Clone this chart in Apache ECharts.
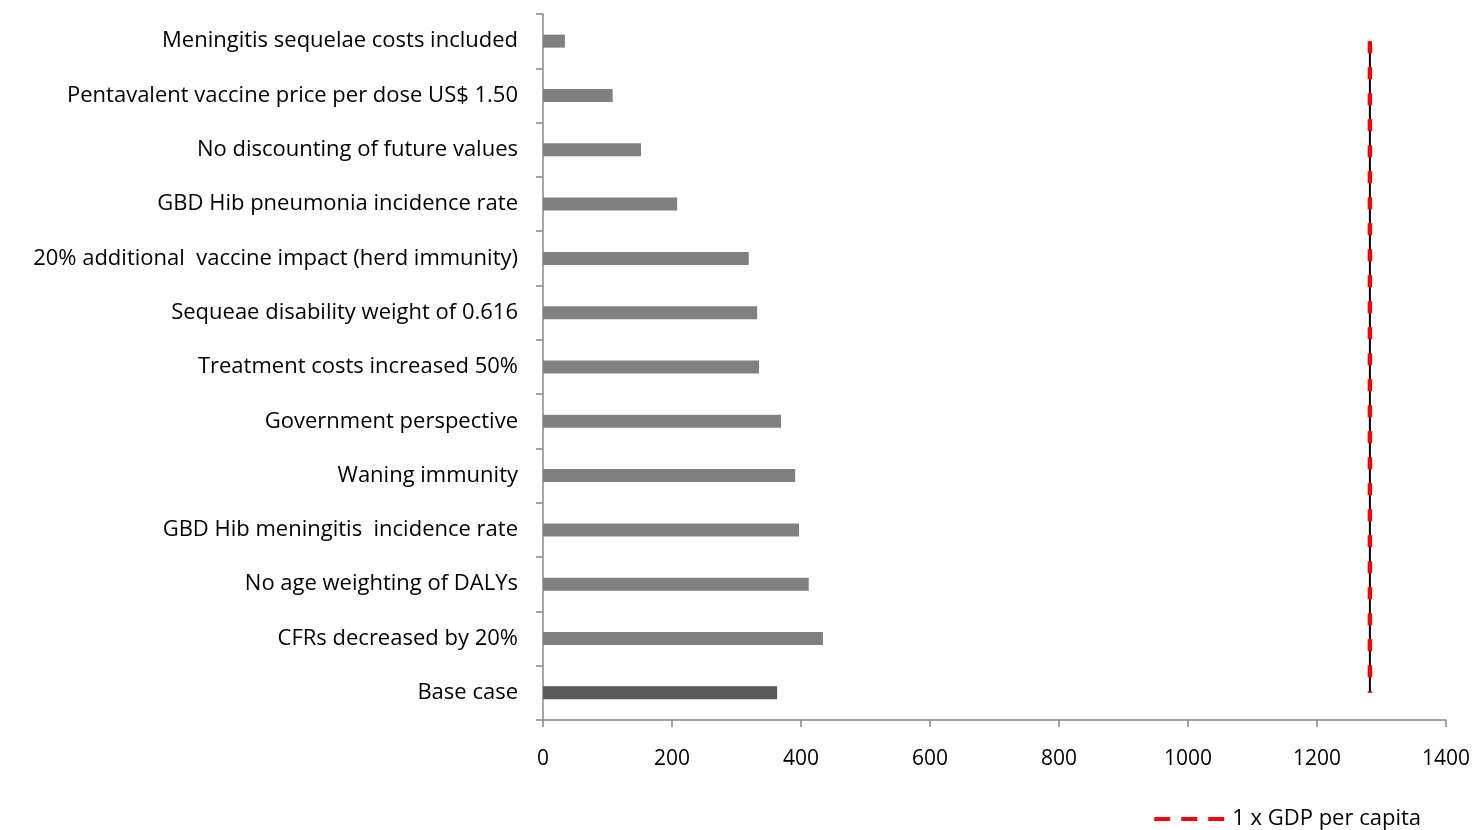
<!DOCTYPE html>
<html><head><meta charset="utf-8">
<script src="https://cdn.jsdelivr.net/npm/echarts@6/dist/echarts.min.js"></script>
<style>html,body{margin:0;padding:0;background:#fff}#c{width:1480px;height:830px}</style>
</head><body><div id="c"></div>
<script>
const categories = [
  "Meningitis sequelae costs included",
  "Pentavalent vaccine price per dose US$ 1.50",
  "No discounting of future values",
  "GBD Hib pneumonia incidence rate",
  "20% additional  vaccine impact (herd immunity)",
  "Sequeae disability weight of 0.616",
  "Treatment costs increased 50%",
  "Government perspective",
  "Waning immunity",
  "GBD Hib meningitis  incidence rate",
  "No age weighting of DALYs",
  "CFRs decreased by 20%",
  "Base case"
];
const values = [34, 108, 152, 208, 319, 332, 335, 369, 391, 397, 412, 434, 363];
const gdpPerCapita = 1282;
const xTicks = [0, 200, 400, 600, 800, 1000, 1200, 1400];
const legendLabel = "1 x GDP per capita";

const font = "'Open Sans', sans-serif";
const barData = values.map((v, i) => ({
  value: v,
  itemStyle: { color: categories[i] === "Base case" ? "#595959" : "#808080" }
}));
const lineData = [[gdpPerCapita, categories[0]], [gdpPerCapita, categories[categories.length - 1]]];

const chart = echarts.init(document.getElementById('c'));
chart.setOption({
  animation: false,
  grid: { left: 543, right: 34, top: 14, bottom: 110, containLabel: false },
  xAxis: {
    type: 'value', min: xTicks[0], max: xTicks[xTicks.length - 1], interval: 200,
    axisLine: { show: true, lineStyle: { color: '#888', width: 1.5 } },
    axisTick: { show: true, length: 7, lineStyle: { color: '#888', width: 1.5 } },
    splitLine: { show: false },
    axisLabel: { color: '#000', fontSize: 21, fontFamily: font, margin: 29, formatter: v => String(v) }
  },
  yAxis: {
    type: 'category', data: categories, inverse: true,
    axisLine: { show: true, lineStyle: { color: '#888', width: 1.5 } },
    axisTick: { show: true, length: 7, lineStyle: { color: '#888', width: 1.5 } },
    splitLine: { show: false },
    axisLabel: { color: '#000', fontSize: 22, fontFamily: font, margin: 25 }
  },
  legend: {
    show: true, right: 54, top: 803,
    data: [{ name: legendLabel, icon: 'path://M0,0h16v4h-16z M27,0h16v4h-16z M54,0h16v4h-16z' }],
    itemWidth: 70, itemHeight: 4, itemGap: 4,
    textStyle: { color: '#000', fontSize: 22, fontFamily: font, padding: [0, 0, 0, 3] }
  },
  series: [
    {
      type: 'bar', data: barData, barWidth: 13, silent: true
    },
    {
      type: 'line', data: lineData, symbol: 'none', silent: true,
      lineStyle: { color: '#000', width: 2 }, z: 3
    },
    {
      name: legendLabel, type: 'line', data: lineData, symbol: 'none', silent: true,
      lineStyle: { color: '#ff0000', width: 4.5, type: [12, 14], cap: 'butt' },
      itemStyle: { color: '#ff0000' }, z: 4
    }
  ]
});
</script></body></html>
